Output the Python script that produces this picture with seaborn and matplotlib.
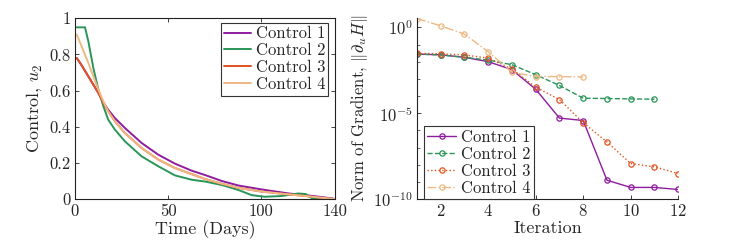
import numpy as np
import pandas as pd
import matplotlib
matplotlib.use("Agg")
import matplotlib.pyplot as plt
import matplotlib.ticker as mticker
import seaborn as sns

# ---------------- data ----------------
labels = ["Control 1", "Control 2", "Control 3", "Control 4"]

t_common = [1, 3.6, 7.2, 9.9, 12.6, 15.3, 17.9, 21.5, 26.9, 35.9, 44.9, 53.8, 62.8,
            70, 79, 88, 100, 115, 124, 132, 138, 140]
u1 = [0.78, 0.74, 0.679, 0.633, 0.587, 0.535, 0.494, 0.448, 0.393, 0.31, 0.245, 0.196,
      0.157, 0.133, 0.10, 0.075, 0.054, 0.031, 0.022, 0.012, 0.004, 0.0]
u3 = [0.78, 0.74, 0.679, 0.633, 0.587, 0.531, 0.485, 0.43, 0.365, 0.282, 0.218, 0.172,
      0.138, 0.111, 0.085, 0.062, 0.042, 0.026, 0.017, 0.008, 0.002, 0.0]
u4 = [0.91, 0.845, 0.753, 0.679, 0.605, 0.54, 0.485, 0.43, 0.365, 0.282, 0.218, 0.172,
      0.138, 0.111, 0.085, 0.062, 0.042, 0.026, 0.017, 0.008, 0.002, 0.0]

t2 = [1, 5.4, 7.2, 9.9, 12.6, 15.3, 17.9, 21.5, 26.9, 35.9, 44.9, 53.8, 62.8, 70, 79,
      88, 95, 102, 111, 120, 124, 127.5, 131, 140]
u2 = [0.95, 0.95, 0.873, 0.725, 0.605, 0.513, 0.439, 0.384, 0.319, 0.236, 0.181, 0.131,
      0.107, 0.097, 0.078, 0.05, 0.022, 0.013, 0.017, 0.031, 0.028, 0.004, 0.0, 0.0]

iter1 = list(range(1, 13))
g1 = [-1.55, -1.59, -1.74, -1.99, -2.46, -3.60, -5.28, -5.42, -8.90, -9.32, -9.32, -9.44]
iter2 = list(range(1, 12))
g2 = [-1.55, -1.60, -1.74, -1.90, -2.17, -2.75, -3.38, -4.12, -4.14, -4.16, -4.18]
iter3 = list(range(1, 13))
g3 = [-1.51, -1.53, -1.60, -1.78, -2.42, -3.48, -4.20, -5.55, -6.67, -7.93, -8.12, -8.51]
iter4 = list(range(1, 9))
g4 = [0.52, 0.10, -0.39, -1.41, -2.61, -2.86, -2.86, -2.88]

colors = ["#8E1C9E", "#2A9558", "#E0531F", "#EDB883"]
styles = ["-", "--", ":", "-."]

# ---------------- style ----------------
sns.set_style("ticks")
plt.rcParams["font.family"] = ["cmr10", "DejaVu Serif"]
plt.rcParams["mathtext.fontset"] = "cm"
plt.rcParams["axes.formatter.use_mathtext"] = True
plt.rcParams["axes.unicode_minus"] = False
plt.rcParams["xtick.direction"] = "in"
plt.rcParams["ytick.direction"] = "in"
plt.rcParams["font.size"] = 12

fig = plt.figure(figsize=(7.42, 2.44), dpi=100)
ax1 = fig.add_axes([0.101, 0.184, 0.351, 0.741])
ax2 = fig.add_axes([0.562, 0.184, 0.352, 0.742])

# ---------------- left panel ----------------
for lab, t, u, c in zip(labels, [t_common, t2, t_common, t_common], [u1, u2, u3, u4], colors):
    df = pd.DataFrame({"t": t, "u": u})
    sns.lineplot(data=df, x="t", y="u", ax=ax1, color=c, lw=1.4, label=lab)
ax1.set_xlim(0, 140)
ax1.set_ylim(0, 1)
ax1.set_xticks([0, 50, 100, 140])
ax1.set_xticklabels(["0", "50", "100", "140"])
ax1.set_yticks([0, 0.2, 0.4, 0.6, 0.8, 1])
ax1.set_yticklabels(["0", "0.2", "0.4", "0.6", "0.8", "1"])
ax1.tick_params(top=True, right=True, length=3, width=0.6, labelsize=12, pad=3)
for s in ax1.spines.values():
    s.set_linewidth(0.8)
    s.set_color("#222222")
ax1.set_xlabel("Time (Days)", fontsize=13, labelpad=1)
ax1.set_ylabel("Control, $u_2$", fontsize=13, labelpad=4)
leg1 = ax1.legend(loc="upper right", bbox_to_anchor=(1 - 7 / 260, 1 - 4.4 / 181),
                  borderaxespad=0, fontsize=12, frameon=True, fancybox=False,
                  edgecolor="#333333", framealpha=1, borderpad=0.2, labelspacing=0.1,
                  handlelength=1.6, handletextpad=0.3)
leg1.get_frame().set_linewidth(0.8)

# ---------------- right panel ----------------
for lab, it, g, c, ls in zip(labels, [iter1, iter2, iter3, iter4], [g1, g2, g3, g4], colors, styles):
    df = pd.DataFrame({"it": it, "g": 10.0 ** np.array(g)})
    sns.lineplot(data=df, x="it", y="g", ax=ax2, color=c, lw=1.0, linestyle=ls,
                 marker="o", markersize=3.8, markerfacecolor="none", markeredgecolor=c,
                 markeredgewidth=0.9, label=lab)
ax2.set_yscale("log")
ax2.set_xlim(1, 12)
ax2.set_ylim(1e-10, 10 ** 0.55)
ax2.set_xticks([2, 4, 6, 8, 10, 12])
ax2.yaxis.set_major_locator(mticker.FixedLocator([1e-10, 1e-5, 1e0]))
ax2.yaxis.set_minor_locator(mticker.FixedLocator([10.0 ** k for k in range(-10, 1)]))
ax2.yaxis.set_minor_formatter(mticker.NullFormatter())
ax2.tick_params(length=3, width=0.6, labelsize=12, pad=3)
ax2.tick_params(which="minor", length=2, width=0.5)
for side in ["top", "right"]:
    ax2.spines[side].set_visible(False)
for side in ["left", "bottom"]:
    ax2.spines[side].set_linewidth(0.8)
    ax2.spines[side].set_color("#222222")
ax2.set_xlabel("Iteration", fontsize=13, labelpad=1)
ax2.set_ylabel(r"Norm of Gradient, $\|\partial_u H\|$", fontsize=12, labelpad=2)
leg2 = ax2.legend(loc="lower left", bbox_to_anchor=(7 / 261, 0.0), borderaxespad=0,
                  fontsize=12, frameon=True, fancybox=False,
                  edgecolor="#333333", framealpha=1, borderpad=0.2, labelspacing=0.1,
                  handlelength=1.7, handletextpad=0.3)
leg2.get_frame().set_linewidth(0.8)

fig.savefig("out.png", dpi=100)
